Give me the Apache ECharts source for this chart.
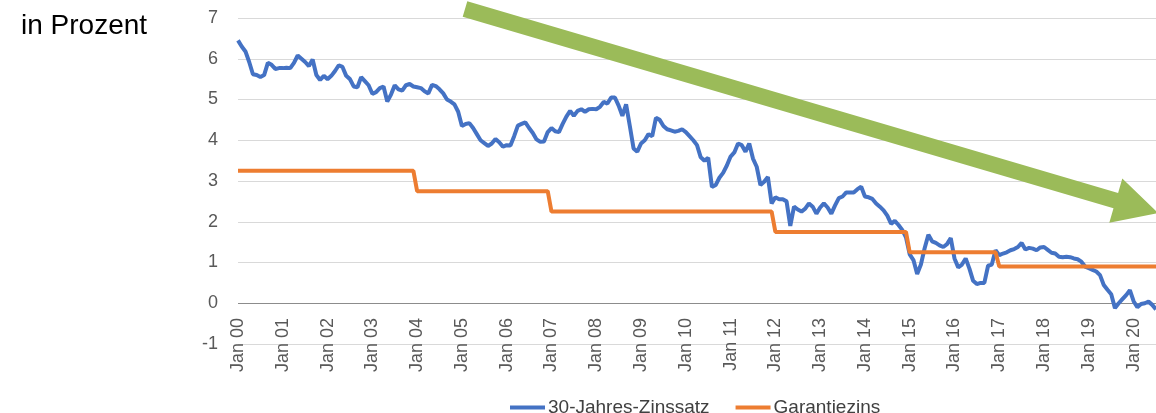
<!DOCTYPE html>
<html>
<head>
<meta charset="utf-8">
<script src="https://cdn.jsdelivr.net/npm/echarts@6/dist/echarts.min.js"></script>
<style>
    html, body { margin: 0; padding: 0; background: #ffffff; }
    #chart { width: 1156px; height: 413px; }
</style>
</head>
<body>
<div id="chart"></div>
<script>
// Monatswerte Jan 2000 - Jul 2020
var years = ['00', '01', '02', '03', '04', '05', '06', '07', '08', '09', '10',
             '11', '12', '13', '14', '15', '16', '17', '18', '19', '20'];
var monthNames = ['Jan', 'Feb', 'Mrz', 'Apr', 'Mai', 'Jun', 'Jul', 'Aug', 'Sep', 'Okt', 'Nov', 'Dez'];

var zinssatz30 = [
    6.45, 6.30, 6.18, 5.92, 5.62, 5.60, 5.55, 5.60, 5.90, 5.85, 5.75, 5.77,   // 2000
    5.77, 5.78, 5.77, 5.90, 6.08, 6.00, 5.92, 5.82, 5.98, 5.60, 5.48, 5.58,   // 2001
    5.50, 5.58, 5.70, 5.84, 5.80, 5.58, 5.50, 5.32, 5.30, 5.55, 5.45, 5.35,   // 2002
    5.14, 5.18, 5.28, 5.32, 4.95, 5.12, 5.35, 5.25, 5.22, 5.35, 5.38, 5.32,   // 2003
    5.30, 5.28, 5.20, 5.15, 5.36, 5.33, 5.25, 5.15, 5.00, 4.95, 4.88, 4.70,   // 2004
    4.35, 4.40, 4.42, 4.30, 4.15, 4.00, 3.93, 3.86, 3.92, 4.03, 3.95, 3.84,   // 2005
    3.88, 3.87, 4.10, 4.36, 4.40, 4.44, 4.30, 4.18, 4.02, 3.96, 3.97, 4.20,   // 2006
    4.30, 4.22, 4.20, 4.40, 4.58, 4.72, 4.60, 4.72, 4.76, 4.70, 4.76, 4.77,   // 2007
    4.76, 4.82, 4.94, 4.90, 5.05, 5.05, 4.85, 4.60, 4.88, 4.35, 3.80, 3.72,   // 2008
    3.92, 4.00, 4.15, 4.10, 4.55, 4.50, 4.35, 4.27, 4.24, 4.21, 4.23, 4.27,   // 2009
    4.20, 4.10, 4.00, 3.88, 3.58, 3.50, 3.57, 2.85, 2.90, 3.08, 3.20, 3.38,   // 2010
    3.60, 3.70, 3.92, 3.88, 3.72, 3.92, 3.55, 3.35, 2.90, 2.98, 3.10, 2.45,   // 2011
    2.60, 2.55, 2.55, 2.50, 1.90, 2.37, 2.30, 2.25, 2.32, 2.45, 2.37, 2.20,   // 2012
    2.35, 2.45, 2.35, 2.20, 2.40, 2.58, 2.62, 2.72, 2.72, 2.72, 2.80, 2.86,   // 2013
    2.62, 2.60, 2.56, 2.45, 2.37, 2.28, 2.15, 1.95, 2.02, 1.92, 1.80, 1.62,   // 2014
    1.20, 1.06, 0.72, 0.95, 1.35, 1.68, 1.52, 1.48, 1.42, 1.38, 1.45, 1.60,   // 2015
    1.10, 0.88, 0.95, 1.10, 0.85, 0.55, 0.47, 0.50, 0.50, 0.92, 0.95, 1.30,   // 2016
    1.18, 1.22, 1.25, 1.30, 1.33, 1.38, 1.48, 1.32, 1.36, 1.34, 1.30, 1.37,   // 2017
    1.38, 1.31, 1.24, 1.22, 1.14, 1.13, 1.14, 1.13, 1.10, 1.08, 1.02, 0.90,   // 2018
    0.86, 0.82, 0.78, 0.69, 0.45, 0.33, 0.22, -0.12, 0.00, 0.10, 0.20, 0.32,  // 2019
    0.05, -0.10, -0.02, 0.00, 0.04, -0.04, -0.15                              // 2020
];

// Garantiezins: Hoehe und ab wann gueltig
var garantieLevels = [3.25, 2.75, 2.25, 1.75, 1.25, 0.9];
var garantieFrom = ['Jan 00', 'Jan 04', 'Jan 07', 'Jan 12', 'Jan 15', 'Jan 17'];

var yTicks = [-1, 0, 1, 2, 3, 4, 5, 6, 7];

var months = [];
for (var y = 0; y < years.length; y++) {
    for (var mo = 0; mo < 12; mo++) {
        if (months.length < zinssatz30.length) {
            months.push(monthNames[mo] + ' ' + years[y]);
        }
    }
}

var garantiezins = [];
var step = 0;
for (var i = 0; i < months.length; i++) {
    if (step + 1 < garantieFrom.length && months[i] === garantieFrom[step + 1]) {
        step++;
    }
    garantiezins.push(garantieLevels[step]);
}

// Nulllinie dunkler als die anderen Gitterlinien
var gridColors = yTicks.map(function (v) {
    return v === 0 ? '#8c8c8c' : '#d9d9d9';
});

var chart = echarts.init(document.getElementById('chart'));
var option = {
    animation: false,
    title: {
        text: 'in Prozent',
        left: 16,
        top: 7,
        textStyle: {
            fontFamily: 'Liberation Sans',
            fontSize: 28,
            fontWeight: 'normal',
            color: '#000000'
        }
    },
    legend: {
        left: 505,
        top: 393,
        icon: 'rect',
        itemWidth: 35,
        itemHeight: 4,
        itemGap: 26,
        textStyle: {
            fontFamily: 'Liberation Sans',
            fontSize: 19,
            color: '#404040',
            padding: [0, 0, 0, -2]
        },
        data: ['30-Jahres-Zinssatz', 'Garantiezins']
    },
    grid: {
        left: 238,
        right: 0,
        top: 18,
        bottom: 69
    },
    xAxis: {
        type: 'category',
        boundaryGap: false,
        data: months,
        axisLine: { show: false, onZero: false },
        axisTick: { show: false },
        axisLabel: {
            rotate: 90,
            margin: -26,
            fontFamily: 'Liberation Sans',
            fontSize: 18,
            color: '#595959',
            interval: function (idx) {
                return idx % 12 === 0;
            }
        },
        splitLine: { show: false }
    },
    yAxis: {
        type: 'value',
        min: yTicks[0],
        max: yTicks[yTicks.length - 1],
        interval: 1,
        axisLine: { show: false },
        axisTick: { show: false },
        axisLabel: {
            margin: 20,
            fontFamily: 'Liberation Sans',
            fontSize: 18,
            color: '#595959'
        },
        splitLine: {
            lineStyle: { color: gridColors, width: 1 }
        }
    },
    series: [
        {
            name: '30-Jahres-Zinssatz',
            type: 'line',
            symbol: 'none',
            color: '#4472c4',
            lineStyle: { width: 4, color: '#4472c4' },
            data: zinssatz30
        },
        {
            name: 'Garantiezins',
            type: 'line',
            symbol: 'none',
            color: '#ed7d31',
            lineStyle: { width: 4, color: '#ed7d31' },
            data: garantiezins
        }
    ],
    graphic: [
        {
            type: 'polygon',
            z: 100,
            shape: {
                points: [
                    [467.3, 1.3], [1118.1, 192.9], [1122.3, 178.5], [1158, 213],
                    [1109.3, 222.7], [1113.5, 208.3], [462.7, 16.7]
                ]
            },
            style: { fill: '#9bbb59' }
        }
    ]
};
chart.setOption(option);
</script>
</body>
</html>
